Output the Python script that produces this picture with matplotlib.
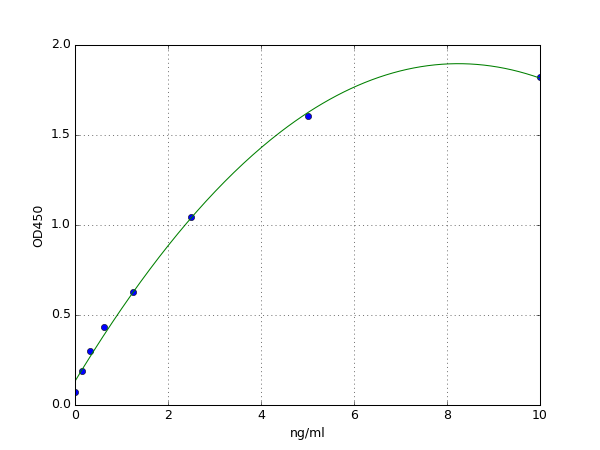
import numpy as np
import matplotlib
matplotlib.use('Agg')
import matplotlib.pyplot as plt

plt.style.use('classic')

# standard curve points
conc = [0, 0.156, 0.3125, 0.625, 1.25, 2.5, 5, 10]
od = [0.07, 0.187, 0.30, 0.435, 0.627, 1.045, 1.605, 1.82]

# quadratic fit of the standards
coef = np.polyfit(conc, od, 2)
xs = np.linspace(0, 10, 200)
ys = np.polyval(coef, xs)

fig = plt.figure(figsize=(8, 6), dpi=75)
ax = fig.add_subplot(111)
ax.plot(conc, od, 'bo')
ax.plot(xs, ys, 'g-')
ax.set_xlim(0, 10)
ax.set_ylim(0, 2.0)
ax.set_xticks([0, 2, 4, 6, 8, 10])
ax.set_yticks([0.0, 0.5, 1.0, 1.5, 2.0])
ax.set_yticklabels(['0.0', '0.5', '1.0', '1.5', '2.0'])
ax.grid(True, linestyle=':', color='k')
ax.set_xlabel('ng/ml')
ax.set_ylabel('OD450')

fig.savefig('out.png', dpi=75)
